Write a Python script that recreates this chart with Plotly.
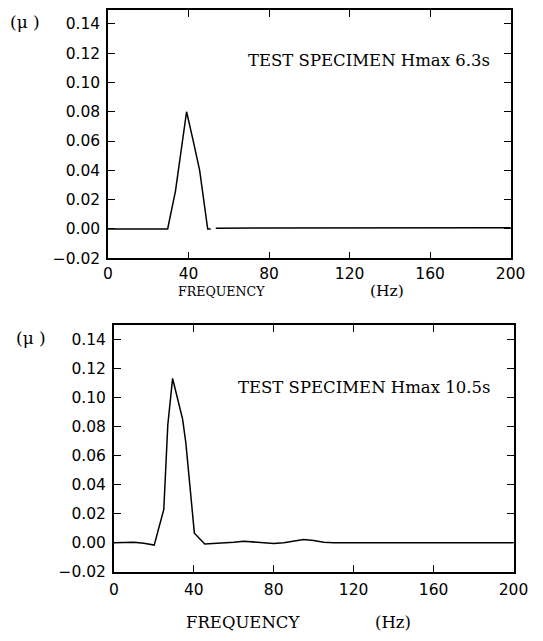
import plotly.graph_objects as go

# ---- data ----
freq_top = [0, 10, 20, 29.6, 33.5, 36.5, 39.0, 42.0, 45.5, 49.5, 51.0, None, 53.5, 80, 120, 160, 200]
mu_top = [0, 0, 0, 0, 0.026, 0.056, 0.080, 0.062, 0.040, 0.0, 0.0, None, 0.0006, 0.0007, 0.0008, 0.0008, 0.0008]

freq_bot = [0, 5, 10, 15, 20.2, 25.0, 27.0, 29.4, 32.0, 34.4, 36.0, 40.3, 45.5, 50, 55, 60, 65, 70, 75, 80,
            85, 90, 95, 100, 105, 110, 120, 140, 160, 180, 200]
mu_bot = [0, 0.0001, 0.0003, -0.0004, -0.0016, 0.023, 0.081, 0.113, 0.098, 0.085, 0.069, 0.0066, -0.0008,
          -0.0005, 0.0, 0.0003, 0.0011, 0.0005, -0.0003, -0.0005, 0.0, 0.001, 0.0023, 0.0015, 0.0003,
          0.0, 0.0, 0.0, 0.0, 0.0, 0.0]

x_ticks = [0, 40, 80, 120, 160, 200]
y_ticks = [-0.02, 0.0, 0.02, 0.04, 0.06, 0.08, 0.10, 0.12, 0.14]
label_top = "TEST SPECIMEN Hmax 6.3s"
label_bot = "TEST SPECIMEN Hmax 10.5s"

W, H = 543, 641

fig = go.Figure()
fig.add_trace(go.Scatter(x=freq_top, y=mu_top, mode="lines", line=dict(color="black", width=1.5),
                         connectgaps=False, xaxis="x", yaxis="y", showlegend=False))
fig.add_trace(go.Scatter(x=freq_bot, y=mu_bot, mode="lines", line=dict(color="black", width=1.5),
                         xaxis="x2", yaxis="y2", showlegend=False))

tick_font = dict(family="DejaVu Sans", size=15.5, color="black")
serif = "DejaVu Serif"

def xax(domain, anchor, standoff):
    return dict(domain=domain, anchor=anchor, range=[0, 200], tickvals=x_ticks,
                tickformat="d", ticks="inside", ticklen=7, tickwidth=1.3, tickcolor="black",
                showline=True, linecolor="black", linewidth=1.6, mirror="ticks",
                showgrid=False, zeroline=False, tickfont=tick_font, ticklabelstandoff=standoff)

def yax(domain, anchor):
    return dict(domain=domain, anchor=anchor, range=[-0.02, 0.1495], tickvals=y_ticks,
                tickformat=".2f", ticks="inside", ticklen=7, tickwidth=1.3, tickcolor="black",
                showline=True, linecolor="black", linewidth=1.6, mirror="ticks",
                showgrid=False, zeroline=False, tickfont=tick_font, ticklabelstandoff=3)

fig.update_layout(
    width=W, height=H,
    margin=dict(l=0, r=0, t=0, b=0),
    paper_bgcolor="white", plot_bgcolor="white",
    xaxis=xax([107 / W, 525 / W], "y", 0),
    yaxis=yax([1 - 262 / H, 1 - 10 / H], "x"),
    xaxis2=xax([113 / W, 528 / W], "y2", 3),
    yaxis2=yax([1 - 580 / H, 1 - 330 / H], "x2"),
)

def ann(text, x, y, size, family=serif):
    return dict(text=text, x=x / W, y=1 - y / H, xref="paper", yref="paper",
                xanchor="center", yanchor="middle", showarrow=False,
                font=dict(family=family, size=size, color="black"))

fig.update_layout(annotations=[
    ann(label_top, 377.5, 61.7, 16.5),
    ann(label_bot, 373, 392.7, 16.5),
    ann("(μ )", 21, 22.7, 17),
    ann("(μ )", 27, 343, 17),
    ann("FREQUENCY", 225, 296, 12.6),
    ann("(Hz)", 397, 295, 15.5),
    ann("FREQUENCY", 246.7, 631.7, 16.5),
    ann("(Hz)", 402.5, 631.7, 16.5),
])

fig.write_html("out.html")
